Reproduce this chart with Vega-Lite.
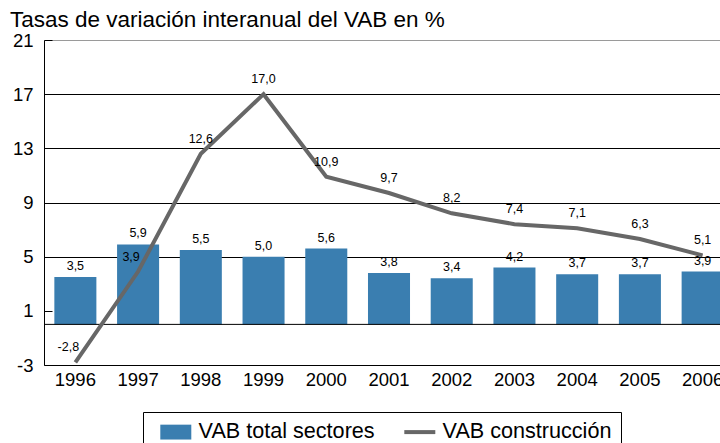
{
  "$schema": "https://vega.github.io/schema/vega-lite/v6.json",
  "autosize": {"type": "none"},
  "width": 690,
  "height": 325,
  "padding": {"left": 44, "top": 40, "right": 0, "bottom": 80},
  "background": "white",
  "config": {
    "locale": {"number": {"decimal": ",", "thousands": ".", "grouping": [3], "currency": ["", " €"], "minus": "-"}},
    "font": "Liberation Sans",
    "view": {"stroke": null}
  },
  "title": {
    "text": "Tasas de variación interanual del VAB en %",
    "anchor": "start",
    "frame": "group",
    "dx": -34,
    "dy": 22,
    "offset": 4,
    "baseline": "alphabetic",
    "fontSize": 22.5,
    "fontWeight": "normal",
    "font": "Liberation Sans",
    "color": "black"
  },
  "data": {
    "values": [
      {"year": "1996", "serie": "VAB total sectores", "valor": 3.5},
      {"year": "1997", "serie": "VAB total sectores", "valor": 5.9},
      {"year": "1998", "serie": "VAB total sectores", "valor": 5.5},
      {"year": "1999", "serie": "VAB total sectores", "valor": 5.0},
      {"year": "2000", "serie": "VAB total sectores", "valor": 5.6},
      {"year": "2001", "serie": "VAB total sectores", "valor": 3.8},
      {"year": "2002", "serie": "VAB total sectores", "valor": 3.4},
      {"year": "2003", "serie": "VAB total sectores", "valor": 4.2},
      {"year": "2004", "serie": "VAB total sectores", "valor": 3.7},
      {"year": "2005", "serie": "VAB total sectores", "valor": 3.7},
      {"year": "2006", "serie": "VAB total sectores", "valor": 3.9},
      {"year": "1996", "serie": "VAB construcción", "valor": -2.8},
      {"year": "1997", "serie": "VAB construcción", "valor": 3.9},
      {"year": "1998", "serie": "VAB construcción", "valor": 12.6},
      {"year": "1999", "serie": "VAB construcción", "valor": 17.0},
      {"year": "2000", "serie": "VAB construcción", "valor": 10.9},
      {"year": "2001", "serie": "VAB construcción", "valor": 9.7},
      {"year": "2002", "serie": "VAB construcción", "valor": 8.2},
      {"year": "2003", "serie": "VAB construcción", "valor": 7.4},
      {"year": "2004", "serie": "VAB construcción", "valor": 7.1},
      {"year": "2005", "serie": "VAB construcción", "valor": 6.3},
      {"year": "2006", "serie": "VAB construcción", "valor": 5.1}
    ]
  },
  "layer": [
    {
      "transform": [{"filter": "datum.serie === 'VAB total sectores'"}],
      "mark": {"type": "bar"},
      "encoding": {
        "x": {
          "field": "year", "type": "ordinal", "title": null,
          "scale": {"paddingInner": 0.33, "paddingOuter": 0.165},
          "axis": {
            "labelAngle": 0, "labelFontSize": 18.5, "labelColor": "black", "labelFont": "Liberation Sans",
            "ticks": false, "labelPadding": 5, "domainColor": "black", "domainWidth": 1, "grid": false
          }
        },
        "y": {
          "field": "valor", "type": "quantitative", "title": null,
          "scale": {"domain": [-3, 21], "nice": false, "zero": false},
          "axis": {
            "values": [-3, 1, 5, 9, 13, 17, 21],
            "format": "d",
            "labelFontSize": 18.5, "labelColor": "black", "labelFont": "Liberation Sans",
            "tickSize": -8, "tickColor": "black", "labelPadding": 19,
            "domainColor": "black", "domainWidth": 1,
            "grid": true,
            "gridColor": {"condition": {"test": "datum.value === 21", "value": "#9a9a9a"}, "value": "black"},
            "gridOpacity": {"condition": {"test": "datum.value === 1 || datum.value === -3", "value": 0}, "value": 1},
            "gridWidth": 1
          }
        },
        "y2": {"datum": 0},
        "color": {
          "field": "serie", "type": "nominal",
          "scale": {"domain": ["VAB total sectores", "VAB construcción"], "range": ["#3a7eb0", "#676767"]},
          "legend": {
            "orient": "none", "legendX": 99, "legendY": 372,
            "direction": "horizontal", "title": null,
            "strokeColor": "black", "padding": 9, "symbolOffset": 13,
            "labelFontSize": 21.6, "labelFont": "Liberation Sans", "labelColor": "black", "labelLimit": 400,
            "labelOffset": 12, "columnPadding": 21, "symbolSize": 961,
            "encode": {
              "symbols": {
                "update": {
                  "shape": {"signal": "datum.value === 'VAB construcción' ? 'stroke' : 'M-1,-0.48H1V0.48H-1Z'"},
                  "strokeWidth": {"signal": "datum.value === 'VAB construcción' ? 4 : 0"},
                  "stroke": {"signal": "scale('color', datum.value)"},
                  "fill": {"signal": "scale('color', datum.value)"},
                  "opacity": {"value": 1},
                  "fillOpacity": {"value": 1},
                  "strokeOpacity": {"value": 1}
                }
              }
            }
          }
        }
      }
    },
    {
      "data": {"values": [{}]},
      "mark": {"type": "rule", "color": "black", "strokeWidth": 1},
      "encoding": {"y": {"datum": 0, "type": "quantitative"}}
    },
    {
      "transform": [{"filter": "datum.serie === 'VAB total sectores'"}],
      "mark": {"type": "text", "baseline": "bottom", "dy": -4, "fontSize": 12.5, "font": "Liberation Sans", "color": "black"},
      "encoding": {
        "x": {"field": "year", "type": "ordinal"},
        "y": {"field": "valor", "type": "quantitative"},
        "text": {"field": "valor", "type": "quantitative", "format": ".1f"}
      }
    },
    {
      "transform": [{"filter": "datum.serie === 'VAB construcción'"}],
      "mark": {"type": "line", "strokeWidth": 4},
      "encoding": {
        "x": {"field": "year", "type": "ordinal"},
        "y": {"field": "valor", "type": "quantitative"},
        "color": {"field": "serie", "type": "nominal"}
      }
    },
    {
      "transform": [{"filter": "datum.serie === 'VAB construcción' && datum.year !== '1996' && datum.year !== '1997'"}],
      "mark": {"type": "text", "baseline": "bottom", "dy": -8, "fontSize": 12.5, "font": "Liberation Sans", "color": "black"},
      "encoding": {
        "x": {"field": "year", "type": "ordinal"},
        "y": {"field": "valor", "type": "quantitative"},
        "text": {"field": "valor", "type": "quantitative", "format": ".1f"}
      }
    },
    {
      "transform": [{"filter": "datum.serie === 'VAB construcción' && (datum.year === '1996' || datum.year === '1997')"}],
      "mark": {"type": "text", "baseline": "bottom", "dy": -8, "dx": -7, "fontSize": 12.5, "font": "Liberation Sans", "color": "black"},
      "encoding": {
        "x": {"field": "year", "type": "ordinal"},
        "y": {"field": "valor", "type": "quantitative"},
        "text": {"field": "valor", "type": "quantitative", "format": ".1f"}
      }
    }
  ]
}
